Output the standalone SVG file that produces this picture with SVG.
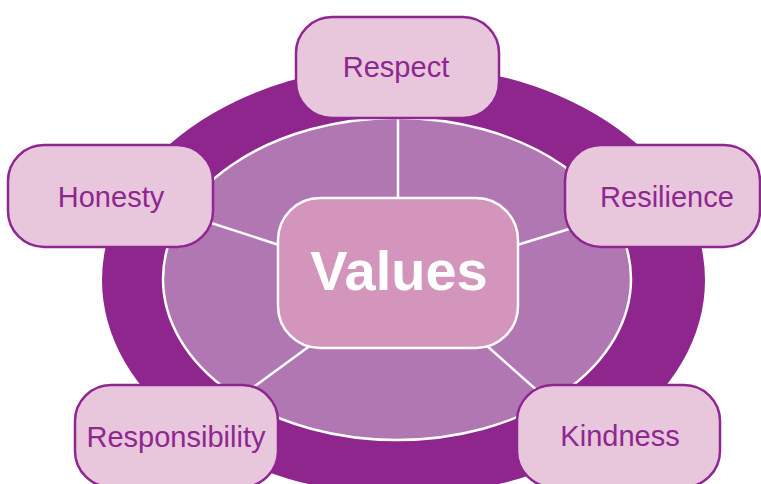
<svg xmlns="http://www.w3.org/2000/svg" width="761" height="484" viewBox="0 0 761 484">
<style>
.box{fill:#e8c6dc;stroke:#8e2790;stroke-width:2.5}
.lbl{font-family:"Liberation Sans",Arial,sans-serif;font-size:29px;fill:#8e2790;text-anchor:middle}
.spoke{stroke:#ffffff;stroke-width:2.5;fill:none}
</style>
<rect width="761" height="484" fill="#ffffff"/>
<g id="ring">
<ellipse cx="403.5" cy="280" rx="301.5" ry="215" fill="#8e268e"/>
<ellipse cx="397" cy="279" rx="234" ry="161" fill="#b077b2" stroke="#ffffff" stroke-width="2.5"/>
</g>
<g id="connectors">
<line class="spoke" x1="398" y1="118" x2="398" y2="199"/>
<line class="spoke" x1="165" y1="208" x2="279" y2="245"/>
<line class="spoke" x1="517" y1="245" x2="628" y2="211"/>
<line class="spoke" x1="311" y1="345" x2="240" y2="397"/>
<line class="spoke" x1="486" y1="345" x2="549" y2="401"/>
</g>
<g id="values">
<rect x="278" y="198" width="240" height="150" rx="42" fill="#d395bb" stroke="#ffffff" stroke-width="2.5"/>
<text x="399" y="290" font-family="Liberation Sans,Arial,sans-serif" font-size="56" font-weight="bold" fill="#ffffff" text-anchor="middle">Values</text>
</g>
<g id="respect">
<rect class="box" x="296" y="17" width="203" height="101" rx="36"/>
<text class="lbl" x="396" y="77">Respect</text>
</g>
<g id="honesty">
<rect class="box" x="8" y="145" width="205" height="102" rx="36"/>
<text class="lbl" x="111" y="207">Honesty</text>
</g>
<g id="resilience">
<rect class="box" x="565" y="145" width="195" height="102" rx="36"/>
<text class="lbl" x="667" y="207">Resilience</text>
</g>
<g id="responsibility">
<rect class="box" x="75" y="385" width="203" height="102" rx="36"/>
<text class="lbl" x="176" y="447">Responsibility</text>
</g>
<g id="kindness">
<rect class="box" x="517" y="385" width="203" height="102" rx="36"/>
<text class="lbl" x="620" y="446">Kindness</text>
</g>
</svg>
